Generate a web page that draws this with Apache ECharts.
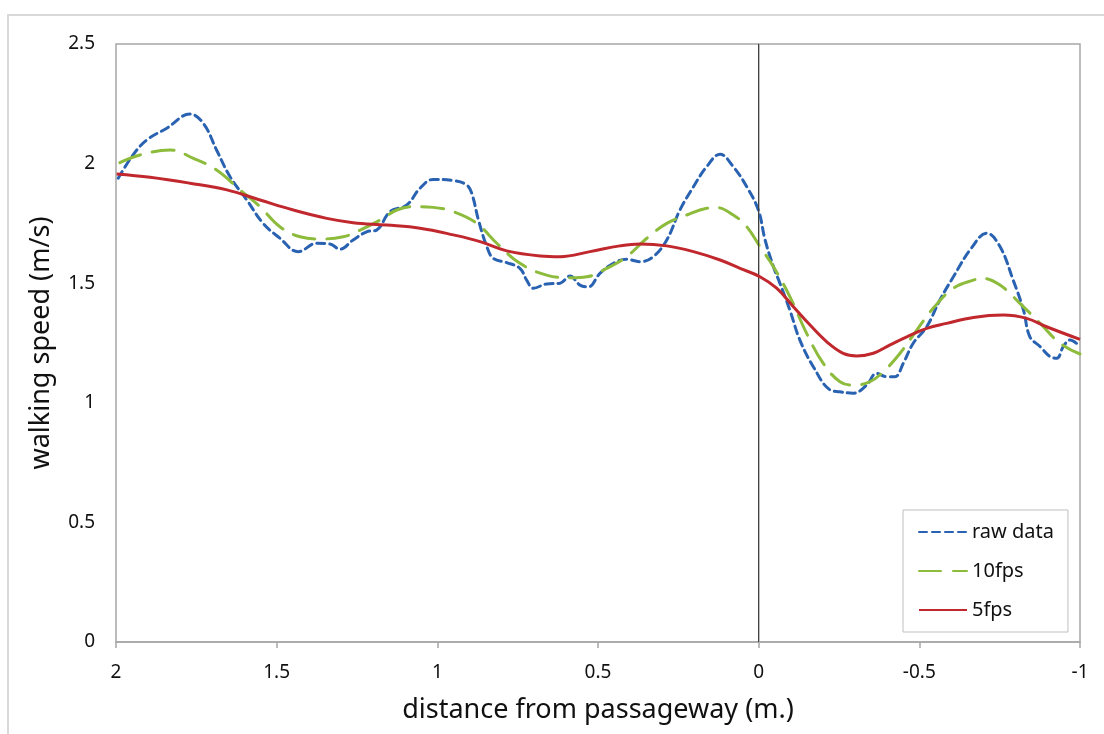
<!DOCTYPE html>
<html>
<head>
<meta charset="utf-8">
<script src="https://cdn.jsdelivr.net/npm/echarts@6/dist/echarts.min.js"></script>
<style>
  html, body { margin: 0; padding: 0; background: #fff; }
  #chart { width: 1104px; height: 734px; }
</style>
</head>
<body>
<div id="chart"></div>
<script>
// Walking speed against distance from the passageway, three sampling rates.
const seriesNames = ['raw data', '10fps', '5fps'];
const xTicks = { min: -1, max: 2, step: 0.5 };
const yTicks = { min: 0, max: 2.5, step: 0.5 };

// [distance (m), speed (m/s)]
const rawData = [
  [1.993, 1.939], [1.947, 2.036], [1.904, 2.099], [1.842, 2.148], [1.770, 2.207],
  [1.728, 2.168], [1.687, 2.057], [1.645, 1.945], [1.593, 1.848], [1.542, 1.750],
  [1.490, 1.688], [1.433, 1.632], [1.375, 1.667], [1.334, 1.664], [1.303, 1.642],
  [1.262, 1.681], [1.220, 1.715], [1.189, 1.722], [1.147, 1.799], [1.095, 1.827],
  [1.054, 1.897], [1.013, 1.934], [0.950, 1.929], [0.909, 1.911], [0.893, 1.876],
  [0.872, 1.764], [0.846, 1.653], [0.826, 1.604], [0.784, 1.586], [0.743, 1.562],
  [0.722, 1.513], [0.701, 1.479], [0.660, 1.497], [0.618, 1.500], [0.587, 1.530],
  [0.556, 1.492], [0.530, 1.485], [0.494, 1.541], [0.452, 1.583], [0.411, 1.600],
  [0.369, 1.590], [0.328, 1.611], [0.286, 1.681], [0.245, 1.806], [0.203, 1.903],
  [0.162, 1.987], [0.120, 2.039], [0.079, 1.987], [0.037, 1.903], [0.001, 1.806],
  [-0.020, 1.681], [-0.046, 1.569], [-0.066, 1.500], [-0.097, 1.388], [-0.128, 1.263],
  [-0.170, 1.151], [-0.222, 1.054], [-0.253, 1.046], [-0.294, 1.040], [-0.336, 1.074],
  [-0.367, 1.123], [-0.398, 1.109], [-0.424, 1.109], [-0.450, 1.165], [-0.481, 1.249],
  [-0.523, 1.318], [-0.564, 1.430], [-0.606, 1.527], [-0.658, 1.639], [-0.710, 1.709],
  [-0.751, 1.653], [-0.792, 1.513], [-0.824, 1.388], [-0.844, 1.276], [-0.876, 1.235],
  [-0.907, 1.193], [-0.928, 1.186], [-0.948, 1.235], [-0.969, 1.263], [-1.000, 1.235]
];

const fps10Data = [
  [1.988, 2.004], [1.925, 2.036], [1.832, 2.057], [1.759, 2.022], [1.687, 1.973],
  [1.614, 1.890], [1.552, 1.820], [1.490, 1.736], [1.427, 1.694], [1.365, 1.685],
  [1.293, 1.694], [1.240, 1.722], [1.178, 1.764], [1.126, 1.806], [1.075, 1.820],
  [1.013, 1.817], [0.950, 1.799], [0.877, 1.750], [0.815, 1.667], [0.743, 1.583],
  [0.660, 1.534], [0.587, 1.523], [0.535, 1.527], [0.473, 1.562], [0.411, 1.611],
  [0.348, 1.688], [0.286, 1.750], [0.224, 1.785], [0.162, 1.813], [0.131, 1.816],
  [0.079, 1.785], [0.037, 1.736], [-0.004, 1.653], [-0.046, 1.569], [-0.097, 1.444],
  [-0.149, 1.291], [-0.201, 1.165], [-0.253, 1.088], [-0.294, 1.074], [-0.346, 1.088],
  [-0.388, 1.130], [-0.440, 1.207], [-0.492, 1.304], [-0.543, 1.395], [-0.606, 1.479],
  [-0.668, 1.513], [-0.699, 1.520], [-0.751, 1.492], [-0.813, 1.416], [-0.876, 1.332],
  [-0.938, 1.249], [-1.000, 1.204]
];

const fps5Data = [
  [1.998, 1.957], [1.894, 1.943], [1.770, 1.918], [1.655, 1.890], [1.552, 1.848],
  [1.448, 1.806], [1.344, 1.771], [1.262, 1.753], [1.158, 1.743], [1.054, 1.730],
  [0.950, 1.702], [0.867, 1.674], [0.784, 1.635], [0.680, 1.614], [0.618, 1.611],
  [0.525, 1.632], [0.432, 1.656], [0.369, 1.664], [0.286, 1.656], [0.203, 1.632],
  [0.120, 1.597], [0.058, 1.562], [-0.004, 1.527], [-0.056, 1.479], [-0.108, 1.402],
  [-0.160, 1.325], [-0.212, 1.255], [-0.263, 1.207], [-0.305, 1.196], [-0.357, 1.207],
  [-0.409, 1.242], [-0.461, 1.276], [-0.523, 1.311], [-0.585, 1.332], [-0.668, 1.357],
  [-0.761, 1.367], [-0.834, 1.353], [-0.896, 1.318], [-1.000, 1.265]
];

const passagewayX = 0;

const FONT = '"Noto Sans", "Open Sans", sans-serif';
const chart = echarts.init(document.getElementById('chart'), null, { renderer: 'canvas' });

chart.setOption({
  backgroundColor: '#ffffff',
  animation: false,
  graphic: [{
    // outer chart frame
    type: 'rect',
    silent: true,
    shape: { x: 8, y: 15, width: 1110, height: 740 },
    style: { fill: 'none', stroke: '#d9d9d9', lineWidth: 2 }
  }],
  grid: {
    left: 116, top: 44, right: 24, bottom: 92,
    show: true, borderColor: '#a6a6a6', borderWidth: 1.5, backgroundColor: 'transparent'
  },
  legend: {
    orient: 'vertical',
    left: 903, top: 510,
    padding: [10, 14, 10, 15],
    itemWidth: 48, itemHeight: 14, itemGap: 15,
    borderColor: '#bfbfbf', borderWidth: 1,
    backgroundColor: '#ffffff',
    // line samples only, no marker dot
    itemStyle: { opacity: 0, color: 'rgba(0,0,0,0)', borderWidth: 0 },
    data: seriesNames,
    textStyle: { fontFamily: FONT, fontSize: 20, color: '#111', lineHeight: 24 }
  },
  xAxis: {
    type: 'value',
    inverse: true,
    min: xTicks.min, max: xTicks.max, interval: xTicks.step,
    name: 'distance from passageway (m.)',
    nameLocation: 'middle',
    nameGap: 55,
    nameTextStyle: { fontFamily: FONT, fontSize: 27, color: '#111' },
    axisLine: { show: true, lineStyle: { color: '#a6a6a6', width: 1.5 } },
    axisTick: { show: true, length: 6, inside: false, lineStyle: { color: '#a6a6a6', width: 1.5 } },
    axisLabel: { fontFamily: FONT, fontSize: 19, color: '#111', margin: 21 },
    splitLine: { show: false }
  },
  yAxis: {
    type: 'value',
    min: yTicks.min, max: yTicks.max, interval: yTicks.step,
    name: 'walking speed (m/s)',
    nameLocation: 'middle',
    nameGap: 61,
    nameTextStyle: { fontFamily: FONT, fontSize: 27, color: '#111' },
    axisLine: { show: true, lineStyle: { color: '#a6a6a6', width: 1.5 } },
    axisTick: { show: false },
    axisLabel: { fontFamily: FONT, fontSize: 19, color: '#111', margin: 21 },
    splitLine: { show: false }
  },
  series: [
    {
      name: seriesNames[0],
      type: 'line',
      data: rawData,
      smooth: 0.4,
      symbol: 'none',
      z: 3,
      lineStyle: { color: '#2a62b2', width: 3, type: [8, 5], cap: 'round' },
      itemStyle: { color: '#2a62b2' },
      markLine: {
        silent: true,
        symbol: ['none', 'none'],
        label: { show: false },
        lineStyle: { color: '#404040', width: 1, type: 'solid' },
        data: [{ xAxis: passagewayX }]
      }
    },
    {
      name: seriesNames[1],
      type: 'line',
      data: fps10Data,
      smooth: 0.4,
      symbol: 'none',
      z: 4,
      lineStyle: { color: '#8dbb3c', width: 3, type: [22, 12], cap: 'round' },
      itemStyle: { color: '#8dbb3c' }
    },
    {
      name: seriesNames[2],
      type: 'line',
      data: fps5Data,
      smooth: 0.4,
      symbol: 'none',
      z: 5,
      lineStyle: { color: '#c0282d', width: 3 },
      itemStyle: { color: '#c0282d' }
    }
  ]
});
</script>
</body>
</html>
